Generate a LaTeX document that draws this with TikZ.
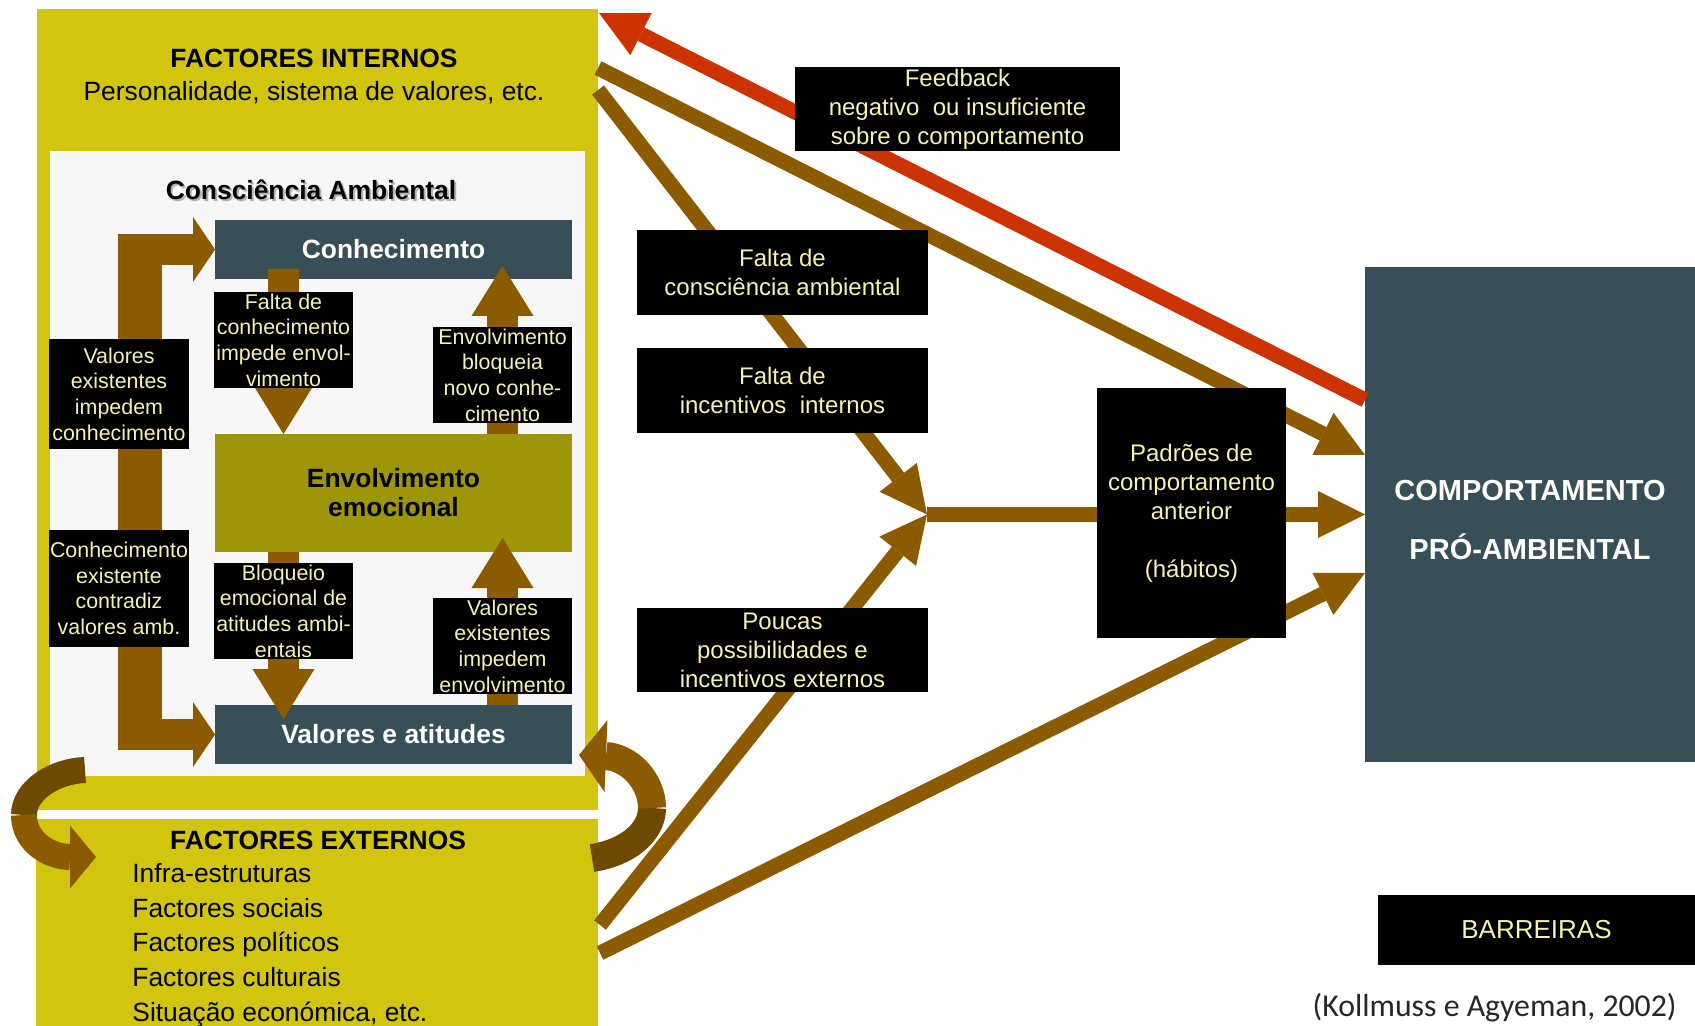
\documentclass[tikz,border=0pt]{standalone}
\usepackage{fontspec}
\setmainfont{Liberation Sans}
\newfontfamily\citefont{Carlito}
\usetikzlibrary{arrows.meta,calc}
\definecolor{panel}{HTML}{D1C50F}
\definecolor{paper}{HTML}{F7F7F7}
\definecolor{slate}{HTML}{394F57}
\definecolor{olive}{HTML}{9D960B}
\definecolor{brn}{HTML}{8C5B00}
\definecolor{brndark}{HTML}{6E4A00}
\definecolor{fbred}{HTML}{CC3300}
\definecolor{cream}{HTML}{F6F1B6}
\tikzset{
  box/.style={inner sep=0pt, outer sep=0pt, align=center},
  panelbox/.style={box, fill=panel},
  core/.style={box, fill=slate, text=white, minimum width=178.5pt,
    font=\fontsize{13.2}{14.5}\selectfont\bfseries},
  tag/.style={box, fill=black, text=cream, minimum width=69.5pt, minimum height=48pt,
    font=\fontsize{10.7}{12.8}\selectfont},
  barrier/.style={box, fill=black, text=cream, font=\fontsize{12}{14.5}\selectfont},
  caption/.style={inner sep=0pt, align=center, font=\fontsize{13.2}{16.5}\selectfont},
  flow/.style={draw=brn, line width=7.5pt,
    -{Triangle[length=23.5pt, width=23.5pt, line width=0pt]}},
  feed/.style={flow, draw=fbred},
  block/.style={draw=brn, line width=15.5pt,
    -{Triangle[length=25pt, width=31pt, line width=0pt]}},
  bracket/.style={draw=brn, line width=15.5pt,
    {Triangle[length=11pt, width=32.5pt, line width=0pt]}-{Triangle[length=11pt, width=32.5pt, line width=0pt]}},
  turn/.style={line width=13pt},
}

\begin{document}
\begin{tikzpicture}[x=0.5pt, y=-0.5pt]
\useasboundingbox (0, 0) rectangle (1695, 1026);

% Left column: internal factors, the awareness box, external factors.
\node[panelbox, minimum width=280.5pt, minimum height=400.5pt] (intern) at (317.5, 409.5) {};
\node[panelbox, minimum width=281pt, minimum height=103.5pt] (extern) at (317, 922.5) {};
\node[box, fill=paper, minimum width=267.5pt, minimum height=312.5pt] (aware) at (317.5, 463.5) {};

\node[caption] (interntitle) at (314, 76)
  {\textbf{FACTORES INTERNOS}\\Personalidade, sistema de valores, etc.};
\node[caption, font=\fontsize{13.2}{16.5}\selectfont\bfseries, text=black!30] (awareshadow) at (313, 192)
  {Consciência Ambiental};
\node[caption, font=\fontsize{13.2}{16.5}\selectfont\bfseries] (awaretitle) at (311, 190)
  {Consciência Ambiental};
\node[caption, font=\fontsize{13.2}{16.5}\selectfont\bfseries] (externtitle) at (318, 840)
  {FACTORES EXTERNOS};
\node[caption, font=\fontsize{13.2}{17.35}\selectfont, align=left, anchor=north west] (externlist) at (132, 863)
  {Infra-estruturas\\Factores sociais\\Factores políticos\\Factores culturais\\Situação económica, etc.};

% The three states of awareness.
\node[core, minimum height=29.5pt] (conh) at (393.5, 249.5) {Conhecimento};
\node[core, minimum height=59pt, fill=olive, text=black] (emo) at (393.5, 493) {Envolvimento\\emocional};
\node[core, minimum height=29.5pt] (val) at (393.5, 734.5) {Valores e atitudes};

\node[tag] (fk) at (283.5, 340) {};
\node[tag] (eb) at (502.5, 375) {};
\node[tag] (be) at (283.5, 611) {};
\node[tag] (vi) at (502.5, 646) {};

\draw[block] ($(conh.south -| fk.center)+(0, -10)$) -- (emo.north -| fk.center);
\draw[block] (emo.north -| eb.center) -- ($(conh.south -| eb.center)+(0, -13)$);
\draw[block] (emo.south -| be.center) -- ($(val.north -| be.center)+(0, 14)$);
\draw[block] (val.north -| vi.center) -- ($(emo.south -| vi.center)+(0, -14)$);

\coordinate (lbar) at ($(val.west)+(-75, 0)$);
\draw[bracket] (conh.west) -| (lbar) -- (val.west);
\draw[brn, line width=22pt] ($(conh.west -| lbar)+(0, -15.5)$) -- ($(lbar)+(0, 15.5)$);

\node[tag] at (fk) {Falta de\\conhecimento\\impede envol-\\vimento};
\node[tag] at (eb) {Envolvimento\\bloqueia\\novo conhe-\\cimento};
\node[tag] at (be) {Bloqueio\\emocional de\\atitudes ambi-\\entais};
\node[tag] at (vi) {Valores\\existentes\\impedem\\envolvimento};
\node[tag, minimum width=70pt, minimum height=55pt] (vc) at (119, 394)
  {Valores\\existentes\\impedem\\conhecimento};
\node[tag, minimum width=70pt, minimum height=58.5pt] (cc) at (119, 588.5)
  {Conhecimento\\existente\\contradiz\\valores amb.};

% Turning arrows between the two panels.
\coordinate (lturnA) at (85, 770);
\coordinate (lturnB) at (24, 815);
\coordinate (lturnC) at (96, 857);
\draw[turn, brndark] (lturnA) .. controls (55, 771) and (24, 790) .. (lturnB);
\draw[turn, brn, -{Triangle[length=13pt, width=31.5pt, line width=0pt]}]
  (lturnB) .. controls (24, 842) and (50, 857) .. (lturnC);
\coordinate (rturnA) at (592, 858);
\coordinate (rturnB) at (652, 808);
\coordinate (rturnC) at (579, 755);
\draw[turn, line width=14pt, brndark] (rturnA) .. controls (626, 853) and (652, 833) .. (rturnB);
\draw[turn, line width=14pt, brn, -{Triangle[length=13.5pt, width=36pt, line width=0pt]}]
  (rturnB) .. controls (652, 780) and (628, 757) .. (rturnC);

% Right side: barriers and the behaviour.
\node[box, fill=slate, minimum width=165pt, minimum height=247.5pt] (comp) at (1530, 514.5) {};
\coordinate (conv) at (927, 514.5);
\coordinate (fbEnd) at (599, 13);
\coordinate (inA) at (598, 68);
\coordinate (inB) at (598, 90);
\coordinate (exA) at (600, 925);
\coordinate (exB) at (600, 953);

\draw[feed] ($(comp.west)+(0, -114.5)$) -- (fbEnd);
\draw[flow] (inA) -- ($(comp.west)+(0, -59.5)$);
\draw[flow] (inB) -- (conv);
\draw[flow] (exA) -- (conv);
\draw[flow] (exB) -- ($(comp.west)+(0, 58.5)$);
\draw[flow] (conv) -- (comp.west);

\node[barrier, minimum width=162.5pt, minimum height=42pt] (fb) at (957.5, 109)
  {Feedback\\negativo\ \ ou insuficiente\\sobre o comportamento};
\node[barrier, minimum width=145.5pt, minimum height=42.5pt] (fca) at (782.5, 272.5)
  {Falta de\\consciência ambiental};
\node[barrier, minimum width=145.5pt, minimum height=42.5pt] (fii) at (782.5, 390.5)
  {Falta de\\incentivos\ \ internos};
\node[barrier, minimum width=145.5pt, minimum height=42pt] (ppe) at (782.5, 650)
  {Poucas\\possibilidades e\\incentivos externos};
\node[barrier, minimum width=94.5pt, minimum height=125pt] (pad) at (1191.5, 513)
  {Padrões de\\comportamento\\anterior\\[14.5pt](hábitos)};
\node[box, text=white, font=\fontsize{14.5}{29.5}\selectfont\bfseries] (comptext)
  at ($(comp.center)+(0, 6)$) {COMPORTAMENTO\\PRÓ-AMBIENTAL};
\node[barrier, minimum width=158.5pt, minimum height=35pt, font=\fontsize{13}{15}\selectfont] (barr)
  at (1536.5, 930) {BARREIRAS};
\node[inner sep=0pt, anchor=east, font=\citefont\fontsize{15.9}{18}\selectfont, text=black!85] (cite)
  at (1677, 1008) {(Kollmuss e Agyeman, 2002)};

\end{tikzpicture}
\end{document}
